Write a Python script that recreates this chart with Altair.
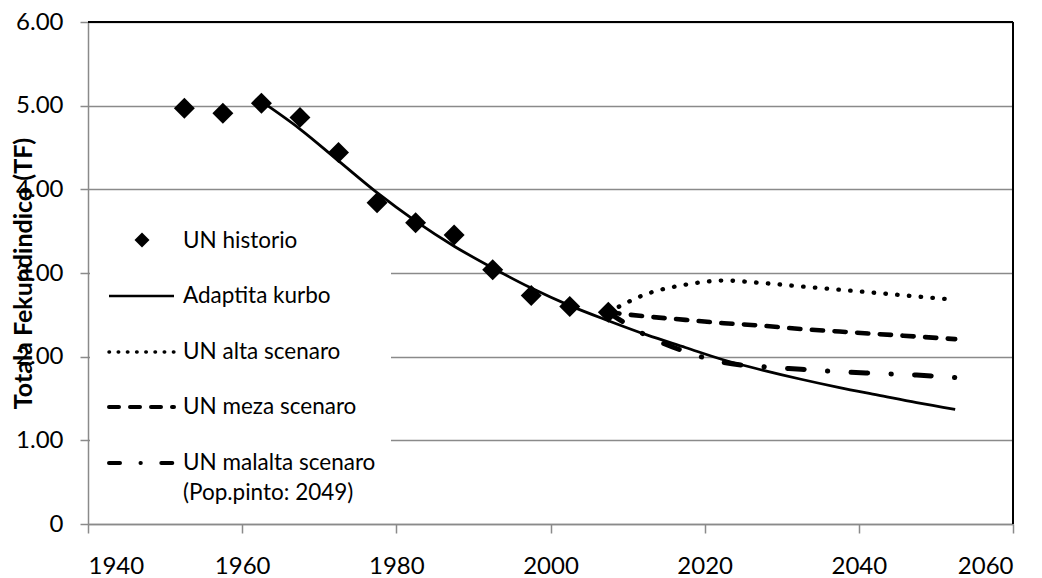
import altair as alt
import pandas as pd

# ---------------- data ----------------
hist_years = [1952.5, 1957.5, 1962.5, 1967.5, 1972.5, 1977.5, 1982.5, 1987.5,
              1992.5, 1997.5, 2002.5, 2007.5]
hist_tf = [4.97, 4.91, 5.03, 4.86, 4.44, 3.84, 3.60, 3.455, 3.04, 2.73, 2.60, 2.53]

fit_years = [1962.5, 1967.5, 1972.5, 1977.5, 1982.5, 1987.5, 1992.5, 1997.5,
             2002.5, 2007.5, 2012.5, 2017.5, 2022.5, 2027.5, 2032.5, 2037.5,
             2042.5, 2047.5, 2052.5]
fit_tf = [5.05, 4.72, 4.34, 3.96, 3.62, 3.32, 3.06, 2.82, 2.61, 2.43, 2.26,
          2.11, 1.96, 1.84, 1.73, 1.63, 1.54, 1.45, 1.37]

scen_years = [2007.5, 2012.5, 2017.5, 2022.5, 2027.5, 2032.5, 2037.5, 2042.5,
              2047.5, 2052.5]
high_tf = [2.53, 2.75, 2.86, 2.91, 2.88, 2.84, 2.80, 2.76, 2.72, 2.68]
mid_tf = [2.53, 2.48, 2.44, 2.40, 2.37, 2.33, 2.30, 2.27, 2.24, 2.21]
low_tf = [2.53, 2.25, 2.06, 1.93, 1.88, 1.85, 1.82, 1.80, 1.78, 1.75]

x_ticks = [1940, 1960, 1980, 2000, 2020, 2040, 2060]
y_ticks = [0, 1, 2, 3, 4, 5, 6]

y_title = "Totala Fekundindico (TF)"
legend_labels = ["UN historio", "Adaptita kurbo", "UN alta scenaro",
                 "UN meza scenaro", "UN malalta scenaro", "(Pop.pinto: 2049)"]

# ---------------- layout ----------------
W, H = 925, 502
FONT = "Lato"
GRAY = "#8a8a8a"

df_hist = pd.DataFrame({"year": hist_years, "tf": hist_tf})
df_fit = pd.DataFrame({"year": fit_years, "tf": fit_tf})
df_high = pd.DataFrame({"year": scen_years, "tf": high_tf})
df_mid = pd.DataFrame({"year": scen_years, "tf": mid_tf})
df_low = pd.DataFrame({"year": scen_years, "tf": low_tf})

xs = alt.Scale(domain=[1940, 2060], nice=False, zero=False)
ys = alt.Scale(domain=[0, 6], nice=False)

x_enc = alt.X("year:Q", scale=xs, axis=alt.Axis(
    values=x_ticks, grid=False, format="d", title=None,
    domainColor=GRAY, domainWidth=1.5, tickColor=GRAY, tickWidth=1.5, tickSize=9,
    labelPadding=21, labelFont=FONT, labelFontSize=24, labelColor="black",
))
y_enc = alt.Y("tf:Q", scale=ys, axis=alt.Axis(
    values=y_ticks, grid=True, gridColor=GRAY, gridWidth=1.3,
    domainColor=GRAY, domainWidth=1.5, tickColor=GRAY, tickWidth=1.5, tickSize=8,
    labelPadding=17, labelFont=FONT, labelFontSize=24, labelColor="black",
    labelExpr="datum.value == 0 ? '0' : format(datum.value, '.2f')",
    title=y_title, titleFont=FONT, titleFontSize=25, titleFontWeight="bold",
    titleColor="black", titleAngle=270, titleX=-65, titleY=251,
    titleAlign="center", titleBaseline="middle",
))

one = pd.DataFrame({"k": [0]})

# white legend background (covers grid lines)
legend_bg = alt.Chart(one).mark_rect(color="white").encode(
    x=alt.value(2), x2=alt.value(303), y=alt.value(178), y2=alt.value(488))

points = alt.Chart(df_hist).mark_point(
    shape="diamond", filled=True, color="black", size=440, opacity=1
).encode(x=x_enc, y=y_enc)

fit = alt.Chart(df_fit).mark_line(
    color="black", strokeWidth=2.75, interpolate="monotone"
).encode(x="year:Q", y="tf:Q")

high = alt.Chart(df_high).mark_line(
    color="black", strokeWidth=4.3, strokeCap="round", strokeDash=[0.5, 11.3],
    interpolate="monotone"
).encode(x="year:Q", y="tf:Q")

mid = alt.Chart(df_mid).mark_line(
    color="black", strokeWidth=4.6, strokeCap="round", strokeDash=[11.2, 11.5],
    interpolate="monotone"
).encode(x="year:Q", y="tf:Q")

low = alt.Chart(df_low).mark_line(
    color="black", strokeWidth=5, strokeCap="round",
    strokeDash=[16.7, 23.3, 0.3, 23.3], interpolate="monotone"
).encode(x="year:Q", y="tf:Q")

# ---------------- manual legend ----------------
leg = []
leg.append(alt.Chart(one).mark_point(shape="diamond", filled=True, color="black",
                                     size=225, opacity=1)
           .encode(x=alt.value(54), y=alt.value(218)))
line_y = [274, 330, 385, 441]
line_styles = [
    dict(strokeWidth=2.7),
    dict(strokeWidth=3.5, strokeCap="round", strokeDash=[0.5, 8.7]),
    dict(strokeWidth=4, strokeCap="round", strokeDash=[10, 11]),
    dict(strokeWidth=4, strokeCap="round", strokeDash=[11, 20.5, 0.3, 20.5]),
]
for yy, st in zip(line_y, line_styles):
    leg.append(alt.Chart(one).mark_rule(color="black", **st).encode(
        x=alt.value(21), x2=alt.value(86), y=alt.value(yy)))
text_base = [225.7, 281.3, 337.3, 392.3, 448, 478]
for lab, yy in zip(legend_labels, text_base):
    leg.append(alt.Chart(pd.DataFrame({"t": [lab]})).mark_text(
        font=FONT, fontSize=22.5, color="black", align="left", baseline="alphabetic"
    ).encode(text="t:N", x=alt.value(95), y=alt.value(yy)))

# black plot-area border on top and right
top_border = alt.Chart(one).mark_rule(color="black", strokeWidth=2).encode(
    x=alt.value(0), x2=alt.value(W), y=alt.value(0))
right_border = alt.Chart(one).mark_rule(color="black", strokeWidth=2).encode(
    x=alt.value(W), y=alt.value(0), y2=alt.value(H))

chart = alt.layer(
    legend_bg, points, fit, high, mid, low, *leg, top_border, right_border
).properties(
    width=W, height=H,
    padding={"left": 80, "top": 14, "right": 17, "bottom": 55},
    autosize=alt.AutoSizeParams(type="none"),
).configure_view(stroke=None).configure(background="white")

chart.save("out.html", embed_options={"renderer": "svg", "actions": False})
